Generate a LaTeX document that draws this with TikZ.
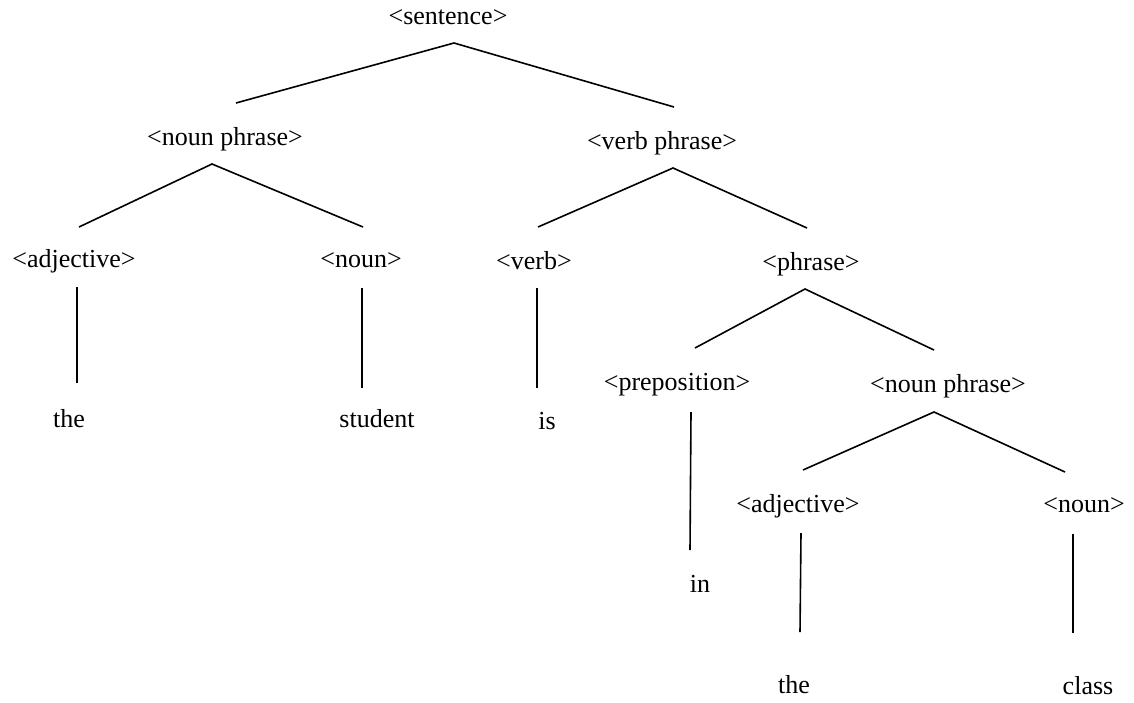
\documentclass[tikz,border=0pt]{standalone}
\usepackage{fontspec}
\setmainfont{Liberation Serif}
\begin{document}
\begin{tikzpicture}[x=1pt,y=-1pt,
  lbl/.style={inner sep=0pt,anchor=base,font=\fontsize{26}{30}\selectfont},
  br/.style={line width=1.6pt}]
\useasboundingbox (0,0) rectangle (1134,702);
% labels
\node[lbl] (s) at (448,24) {<sentence>};
\node[lbl] (np) at (225,145) {<noun phrase>};
\node[lbl] (vp) at (662,149) {<verb phrase>};
\node[lbl] (adj) at (74,267) {<adjective>};
\node[lbl] (n) at (361,267) {<noun>};
\node[lbl] (v) at (534,269) {<verb>};
\node[lbl] (ph) at (811,270) {<phrase>};
\node[lbl] (prep) at (677,390) {<preposition>};
\node[lbl] (np2) at (948,392) {<noun phrase>};
\node[lbl] (adj2) at (798,512) {<adjective>};
\node[lbl] (n2) at (1084,512) {<noun>};
\node[lbl] (the1) at (69,427) {the};
\node[lbl] (stu) at (377,427) {student};
\node[lbl] (is) at (547,429) {is};
\node[lbl] (in) at (700,592) {in};
\node[lbl] (the2) at (794,693) {the};
\node[lbl] (cls) at (1088,694) {class};
% connector end points
\coordinate (sA) at (454,43); \coordinate (sL) at (236,103); \coordinate (sR) at (674,107);
\coordinate (npA) at (212,164); \coordinate (npL) at (79,227); \coordinate (npR) at (363,227);
\coordinate (vpA) at (673,168); \coordinate (vpL) at (538,227); \coordinate (vpR) at (807,228);
\coordinate (adjT) at (77,287); \coordinate (adjB) at (77,383);
\coordinate (nT) at (362,288); \coordinate (nB) at (362,388);
\coordinate (vT) at (537,288); \coordinate (vB) at (537,388);
\coordinate (phA) at (805,289); \coordinate (phL) at (695,348); \coordinate (phR) at (934,350);
\coordinate (prT) at (691,412); \coordinate (prB) at (690,550);
\coordinate (np2A) at (934,412); \coordinate (np2L) at (803,470); \coordinate (np2R) at (1065,472);
\coordinate (a2T) at (801,533); \coordinate (a2B) at (800,632);
\coordinate (n2T) at (1073,534); \coordinate (n2B) at (1073,633);
% connectors
\draw[br] (sL) -- (sA) -- (sR);
\draw[br] (npL) -- (npA) -- (npR);
\draw[br] (vpL) -- (vpA) -- (vpR);
\draw[br] (adjT) -- (adjB);
\draw[br] (nT) -- (nB);
\draw[br] (vT) -- (vB);
\draw[br] (phL) -- (phA) -- (phR);
\draw[br] (prT) -- (prB);
\draw[br] (np2L) -- (np2A) -- (np2R);
\draw[br] (a2T) -- (a2B);
\draw[br] (n2T) -- (n2B);
\end{tikzpicture}
\end{document}
